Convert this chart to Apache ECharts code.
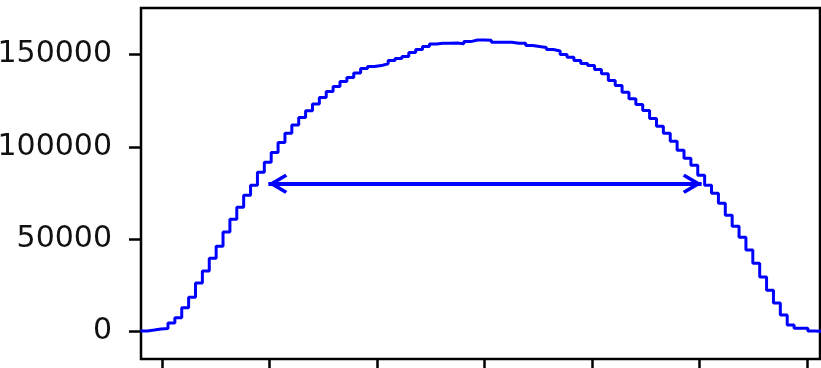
<!DOCTYPE html>
<html>
<head>
<meta charset="utf-8">
<script src="https://cdn.jsdelivr.net/npm/echarts@6/dist/echarts.min.js"></script>
<style>
html,body{margin:0;padding:0;background:#fff;}
#chart{width:821px;height:368px;}
</style>
</head>
<body>
<div id="chart"></div>
<script>
// Histogram (step outline): counts per bin
const binStart = -3.2;
const binWidth = 0.064;
const counts = [
  300, 800, 1400, 1600, 4600, 7500, 12900, 18600, 26200, 32700,
  39700, 46200, 53900, 60800, 67300, 73800, 79200, 86200, 91600, 97000,
  102400, 107300, 111900, 115900, 119500, 123200, 126700, 130000, 132700, 135400,
  137600, 140000, 142400, 143500, 144000, 145000, 146700, 147800, 148900, 151100,
  152700, 154300, 155700, 156100, 156100, 156300, 155800, 157000, 157900, 157900,
  157800, 156600, 156600, 156600, 156100, 156100, 154900, 154300, 153800, 152700,
  151900, 150000, 148500, 146700, 145100, 144000, 141900, 139600, 135900, 133200,
  129600, 126000, 123000, 119700, 115400, 111100, 107300, 103000, 98100, 93800,
  90000, 84600, 79200, 74900, 69500, 63000, 57000, 51100, 44100, 37000,
  29500, 22400, 15400, 8900, 3500, 1700, 1700, 300, 100, 50
];
const xTicks = [-3, -2, -1, 0, 1, 2, 3];
const yTicks = [0, 50000, 100000, 150000];
// Double-headed arrow (FWHM marker)
const arrowX = [-2.01, 2.02];
const arrowY = 80000;

const stepData = counts.map((c, i) => [binStart + i * binWidth, c]);
stepData.push([binStart + counts.length * binWidth, counts[counts.length - 1]]);

const chevron = 'path://M9,-17 M9,0 L18,15.5 L15.5,17.5 L9,6.5 L2.5,17.5 L0,15.5 Z';

const chart = echarts.init(document.getElementById('chart'), null, {renderer: 'canvas'});
chart.setOption({
  animation: false,
  backgroundColor: '#ffffff',
  grid: {
    left: 141, top: 8, right: 1, bottom: 9,
    containLabel: false,
    outerBoundsMode: 'none',
    show: true, borderColor: '#000', borderWidth: 2.5, backgroundColor: 'transparent'
  },
  xAxis: {
    type: 'value',
    min: -3.195, max: 3.121,
    axisLine: {show: false, onZero: false},
    splitLine: {show: false},
    axisTick: {show: true, customValues: xTicks, length: 12, lineStyle: {color: '#000', width: 2.5}},
    axisLabel: {show: false}
  },
  yAxis: {
    type: 'value',
    min: -14900, max: 175200,
    axisLine: {show: false, onZero: false},
    splitLine: {show: false},
    axisTick: {show: true, customValues: yTicks, length: 12, lineStyle: {color: '#000', width: 2.5}},
    axisLabel: {
      show: true, customValues: yTicks, margin: 29,
      formatter: v => String(v),
      color: '#111', fontFamily: 'DejaVu Sans', fontSize: 30
    }
  },
  series: [{
    type: 'line',
    step: 'end',
    data: stepData,
    showSymbol: false,
    symbol: 'none',
    lineStyle: {color: '#0000ff', width: 3},
    clip: true,
    markLine: {
      silent: true,
      symbol: [chevron, chevron],
      symbolSize: [20, 38],
      lineStyle: {color: '#0000ff', width: 4, type: 'solid'},
      label: {show: false},
      emphasis: {disabled: true},
      data: [[{coord: [arrowX[0], arrowY]}, {coord: [arrowX[1], arrowY]}]]
    }
  }]
});
</script>
</body>
</html>
